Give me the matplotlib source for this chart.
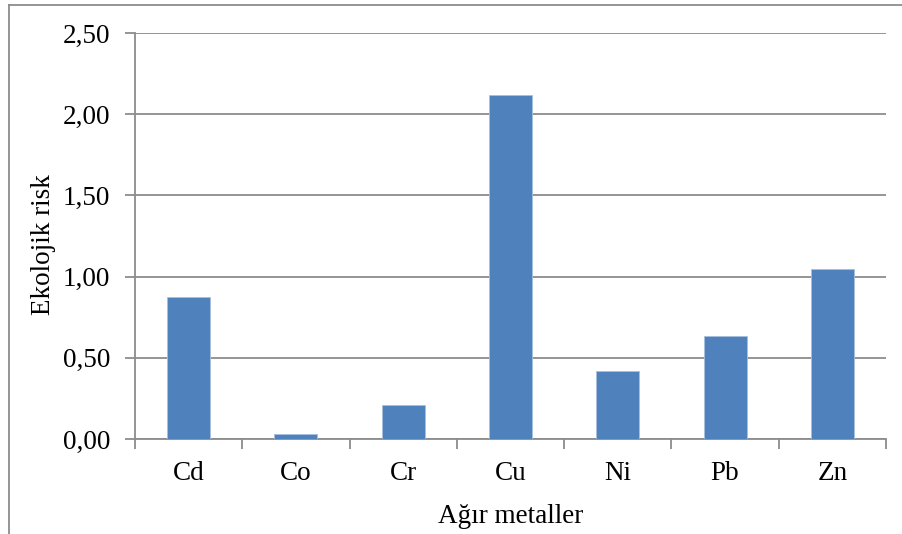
import matplotlib
matplotlib.use("Agg")
import matplotlib.pyplot as plt
from matplotlib.lines import Line2D
from matplotlib.ticker import FixedLocator, FuncFormatter

metals = ["Cd", "Co", "Cr", "Cu", "Ni", "Pb", "Zn"]
risk = [0.876, 0.031, 0.207, 2.118, 0.42, 0.636, 1.047]
y_ticks = [0.0, 0.5, 1.0, 1.5, 2.0, 2.5]

plt.rcParams["font.family"] = ["Liberation Serif", "DejaVu Serif"]

W, H = 902, 534
FS = 19.5
fig = plt.figure(figsize=(W / 100, H / 100), dpi=100)
ax = fig.add_axes([135 / W, 1 - 439 / H, (886 - 135) / W, (439 - 33) / H])

x = list(range(len(metals)))
ax.bar(x, risk, width=0.4, color="#4F81BD", edgecolor="#A7BFDE", linewidth=0.6, zorder=3)

ax.set_xlim(-0.5, len(metals) - 0.5)
ax.set_ylim(0, 2.5)
ax.yaxis.set_major_locator(FixedLocator(y_ticks))
ax.yaxis.set_major_formatter(FuncFormatter(lambda v, p: f"{v:.2f}".replace(".", ",")))
ax.set_xticks(x)
ax.set_xticklabels(metals)
ax.set_xticks([i - 0.5 for i in range(len(metals) + 1)], minor=True)

ax.grid(axis="y", color="#8C8C8C", linewidth=1.3, zorder=0)
for s in ["top", "right"]:
    ax.spines[s].set_visible(False)
for s in ["left", "bottom"]:
    ax.spines[s].set_color("#8C8C8C")
    ax.spines[s].set_linewidth(1.3)

ax.tick_params(axis="x", which="major", length=0, labelsize=FS, pad=16)
ax.tick_params(axis="x", which="minor", length=7, width=1.3, color="#8C8C8C", direction="out")
ax.tick_params(axis="y", length=7, width=1.3, color="#8C8C8C", labelsize=FS, pad=11)

ax.set_xlabel("Ağır metaller", fontsize=FS, labelpad=13)
ax.set_ylabel("Ekolojik risk", fontsize=FS, labelpad=5)
ax.yaxis.label.set_y(0.478)

# chart area outline
fig.add_artist(Line2D([9 / W, 9 / W], [0, 1 - 5 / H], transform=fig.transFigure, color="#8C8C8C", linewidth=1.3))
fig.add_artist(Line2D([9 / W, 1], [1 - 5 / H, 1 - 5 / H], transform=fig.transFigure, color="#8C8C8C", linewidth=1.3))

fig.savefig("out.png", dpi=100)
